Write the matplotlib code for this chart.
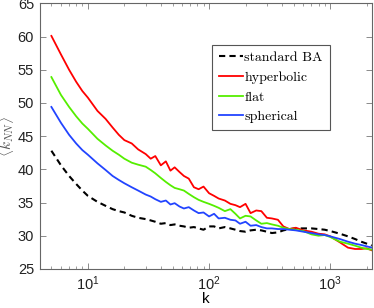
import numpy as np
import matplotlib
matplotlib.use("Agg")
from matplotlib import pyplot as plt
from matplotlib.ticker import LogLocator, NullFormatter, MultipleLocator

plt.rcParams['font.family'] = ['Liberation Sans', 'DejaVu Sans']
plt.rcParams['mathtext.fontset'] = 'cm'

k = [5, 6, 7, 8, 9, 10, 12, 14, 16, 18, 20, 23, 26, 30, 33, 36, 40, 44, 48, 52,
     57, 62, 68, 75, 82, 90, 100, 110, 120, 135, 150, 165, 180, 200, 220, 245,
     270, 300, 330, 370, 410, 460, 520, 600, 700, 800, 900, 1000, 1200, 1400,
     1600, 1800, 2000, 2200]

standard_ba = [42.8, 40.6, 39.0, 37.8, 36.8, 36.0, 35.1, 34.5, 34.0, 33.7, 33.5,
               33.0, 32.7, 32.5, 32.3, 32.1, 31.8, 31.9, 31.6, 31.7, 31.5, 31.4,
               31.2, 31.3, 31.1, 30.9, 31.4, 31.4, 31.1, 31.3, 31.1, 30.9, 30.7,
               30.6, 30.8, 30.9, 30.8, 30.6, 30.4, 30.5, 30.8, 31.0, 31.1, 31.1,
               31.1, 31.0, 30.9, 30.7, 30.3, 29.9, 29.5, 29.1, 28.8, 28.5]

hyperbolic = [60.1, 57.3, 55.0, 53.2, 51.8, 50.8, 48.8, 47.6, 46.3, 45.2, 44.4,
              43.9, 43.0, 42.3, 41.6, 42.0, 40.6, 41.2, 39.8, 40.3, 39.6, 39.0,
              38.6, 37.3, 37.0, 37.4, 36.4, 36.0, 35.6, 35.3, 34.8, 34.6, 34.3,
              34.8, 33.4, 33.8, 33.7, 32.7, 32.6, 32.4, 31.4, 31.0, 31.2, 30.8,
              30.6, 30.3, 30.2, 29.9, 29.0, 28.2, 28.0, 28.0, 28.1, 27.8]

flat = [53.9, 51.2, 49.4, 48.0, 46.9, 46.1, 44.6, 43.6, 42.8, 42.2, 41.6, 41.0,
        40.7, 40.4, 39.9, 39.4, 38.7, 38.1, 37.6, 37.2, 37.0, 36.8, 36.3, 35.8,
        35.4, 35.1, 34.8, 34.5, 34.2, 33.7, 34.0, 33.3, 32.6, 33.0, 32.9, 32.3,
        31.8, 31.9, 31.7, 31.5, 31.2, 31.0, 30.9, 30.7, 30.2, 30.0, 30.1, 29.8,
        29.1, 28.8, 28.5, 28.2, 28.0, 27.9]

spherical = [49.4, 47.0, 45.2, 43.9, 42.9, 42.2, 40.9, 39.9, 39.0, 38.4, 37.9,
             37.3, 36.8, 36.2, 35.9, 35.5, 35.1, 35.3, 34.7, 34.9, 34.4, 34.1,
             34.3, 33.8, 33.4, 33.5, 32.9, 33.3, 32.6, 32.7, 32.4, 32.3, 31.8,
             32.1, 31.5, 31.6, 31.3, 31.1, 31.1, 31.0, 31.0, 30.9, 30.8, 30.6,
             30.4, 30.2, 30.1, 29.9, 29.5, 29.1, 28.8, 28.6, 28.4, 28.2]

fig = plt.figure(figsize=(3.74, 3.08), dpi=100)
ax = fig.add_axes([0.106, 0.127, 0.888, 0.862])

ax.plot(k, standard_ba, color='black', ls=(0, (3, 2)), lw=1.5, label='standard BA')
ax.plot(k, hyperbolic, color='#ff0000', lw=1.3, label='hyperbolic')
ax.plot(k, flat, color='#55ee00', lw=1.3, label='flat')
ax.plot(k, spherical, color='#2244ff', lw=1.3, label='spherical')

ax.set_xscale('log')
ax.set_xlim(4, 2200)
ax.set_ylim(25, 65)
ax.yaxis.set_major_locator(MultipleLocator(5))
ax.xaxis.set_minor_locator(LogLocator(base=10, subs=np.arange(2, 10)))
ax.xaxis.set_minor_formatter(NullFormatter())

ax.tick_params(which='both', direction='in', top=True, right=True,
               labelsize=10.5, colors='#222222', pad=4)
ax.tick_params(which='major', length=4, width=0.6, color='#777777')
ax.tick_params(which='minor', length=2, width=0.5, color='#777777')
for s in ax.spines.values():
    s.set_color('#666666')
    s.set_linewidth(0.8)

ax.set_xlabel('k', fontsize=11, labelpad=-1)
ax.set_ylabel(r'$\langle k_{NN}\rangle$', fontsize=11, labelpad=1, color='#555555')

leg = ax.legend(loc='upper left', bbox_to_anchor=(0.52, 0.845), fancybox=False,
                framealpha=1, edgecolor='#555555', handlelength=1.7,
                handletextpad=0.1, borderpad=0.5, labelspacing=0.5,
                borderaxespad=0, prop={'family': 'cmr10', 'size': 10})
leg.get_frame().set_linewidth(0.8)

fig.savefig('out.png', dpi=100)
